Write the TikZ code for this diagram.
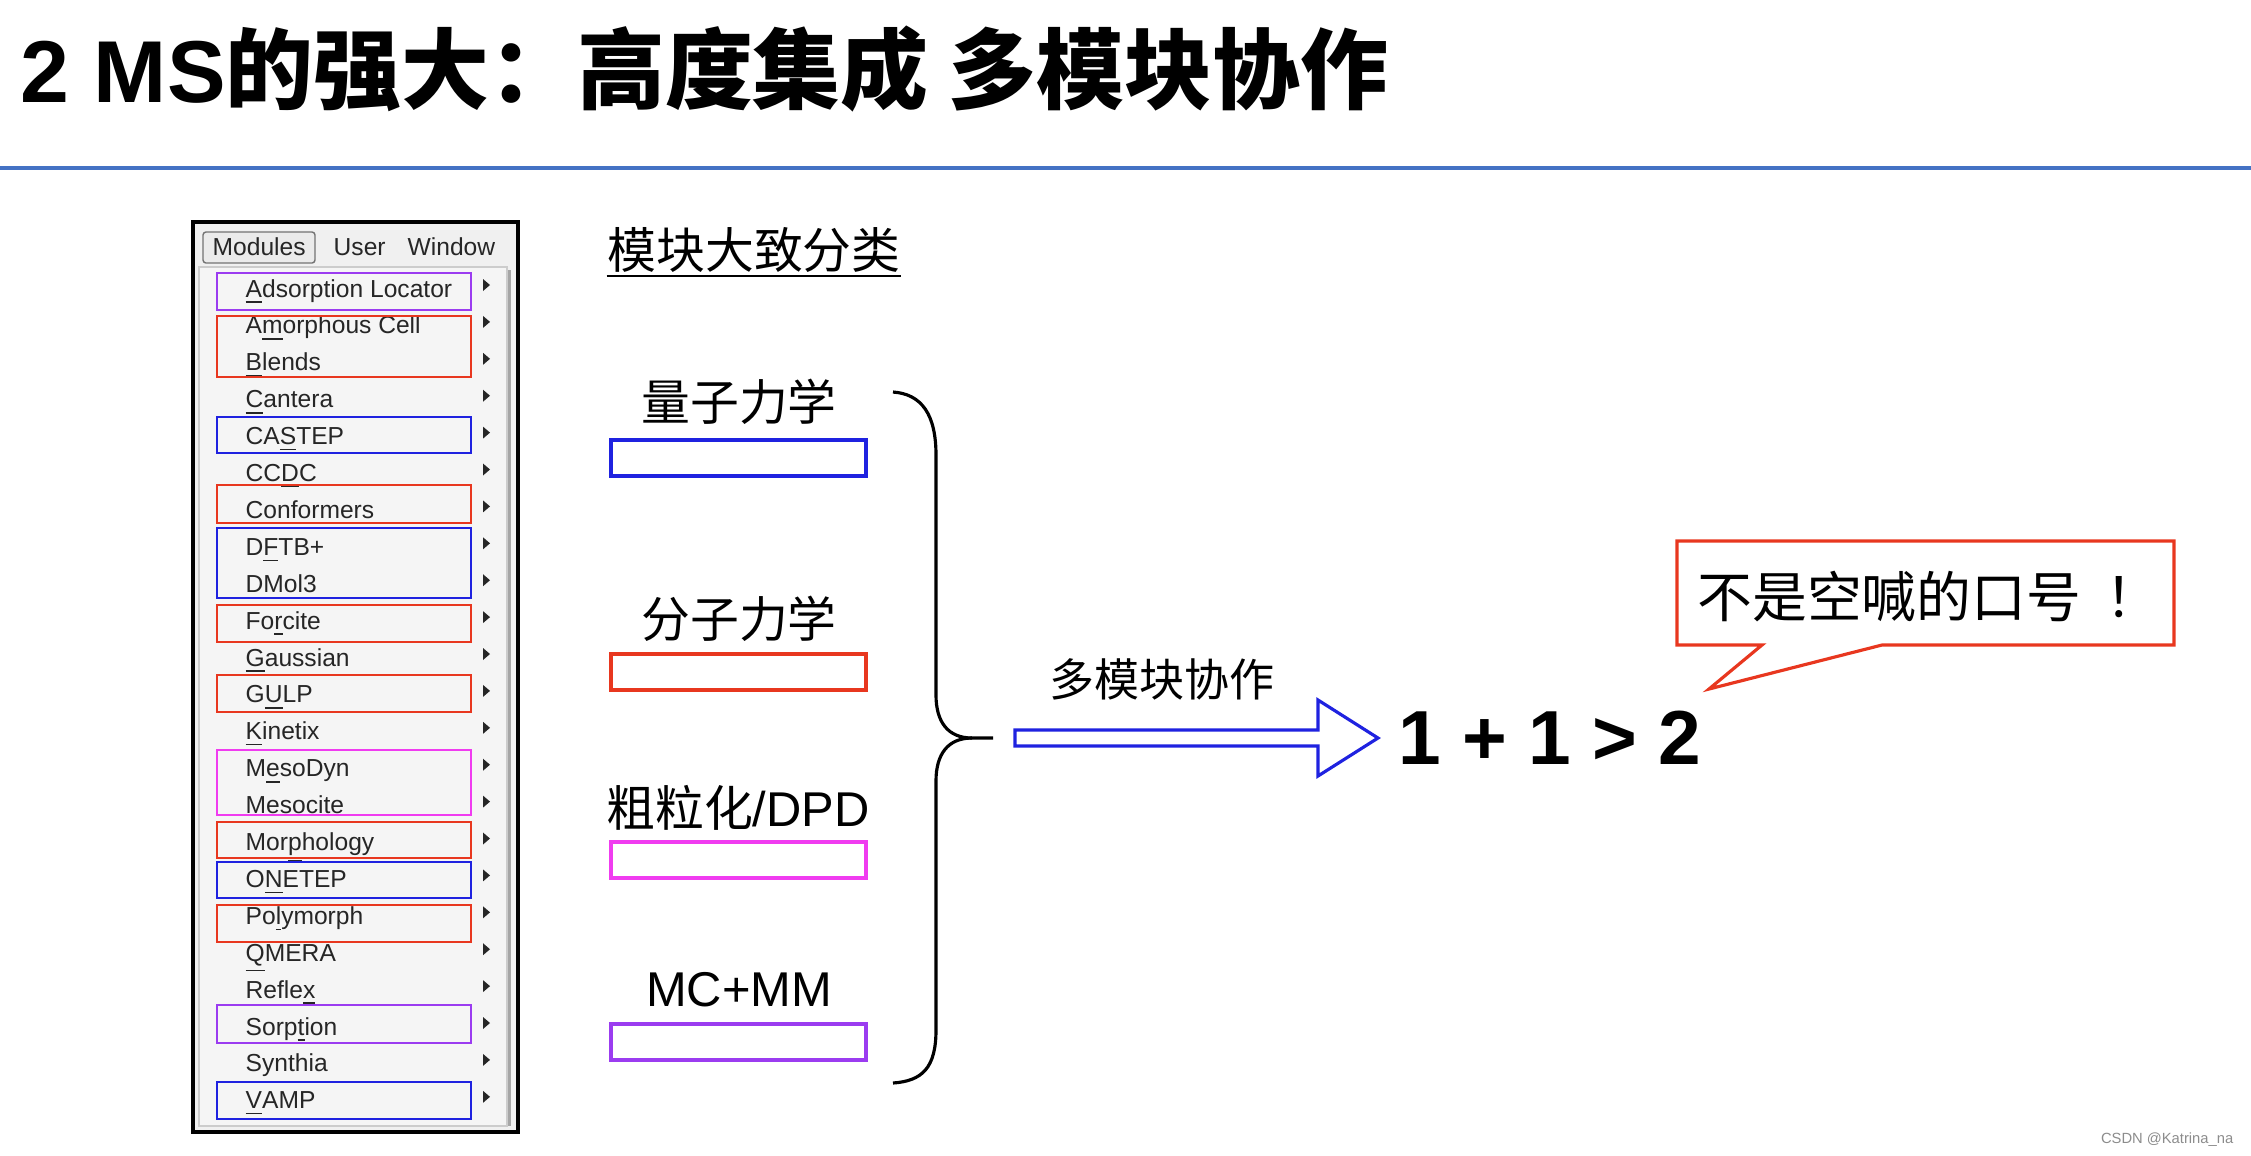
\documentclass[tikz,border=0pt]{standalone}
\usepackage{fontspec}
\usepackage{xcolor}
\setmainfont{Liberation Sans}
\newfontfamily\cjk{Noto Sans CJK SC}
\definecolor{rulebl}{HTML}{4472C4}
\definecolor{modblue}{HTML}{1F22E0}
\definecolor{modred}{HTML}{E8371F}
\definecolor{modpink}{HTML}{F03CF0}
\definecolor{modpurple}{HTML}{9B3CF0}
\definecolor{menugrey}{HTML}{F0F0F0}

\begin{document}
\begin{tikzpicture}[x=0.1mm, y=-0.1mm,
	titletext/.style	= {anchor=base west, inner sep=0pt, font=\fontsize{25}{30}\selectfont\bfseries},
	menuitem/.style		= {anchor=base west, inner sep=0pt, font=\fontsize{7}{8}\selectfont, text=black!85},
	modbox/.style		= {line width=0.65pt},
	catbox/.style		= {line width=1.1pt, minimum width=25.5mm, minimum height=3.6mm, inner sep=0pt},
	catlabel/.style		= {inner sep=0pt, font=\fontsize{13.9}{16}\selectfont},
	bigarrow/.style		= {draw=modblue, fill=white, line width=0.9pt, line join=miter},
	result/.style		= {anchor=west, inner sep=0pt, font=\fontsize{21.8}{25}\selectfont\bfseries},
	slogan/.style		= {inner sep=0pt, font=\fontsize{15.6}{18}\selectfont\cjk}]
	%\draw[help lines] (0,0) grid (2251,1155);
	\useasboundingbox (0,0) rectangle (2251,1155);
	
	% title
	\node[titletext] (title) at (20,102) {2 MS{\cjk 的强大：高度集成 多模块协作}};
	\draw[rulebl, line width=1.15pt] (0,168) -- (2251,168);
	
	% menu
	\draw[line width=1.1pt, fill=menugrey] (193,222) rectangle (518,1132);
	\draw[black!20, fill=black!4] (199,267) rectangle (507,1126);
	\fill[black!35] (508,270) rectangle (511,1126);
	\draw[rounded corners=0.3mm, black!55, fill=black!8] (203,232) rectangle (315,263);
	\node[menuitem] (mmod) at (212,255) {Modules};
	\node[menuitem] (muser) at (333,255) {User};
	\node[menuitem] (mwin) at (407,255) {Window};
	
	\foreach \name [count=\i from 0] in {\underline{A}dsorption Locator, A\underline{m}orphous Cell,
		\underline{B}lends, \underline{C}antera, CA\underline{S}TEP, CC\underline{D}C, C\underline{o}nformers,
		D\underline{F}TB+, DMol\underline{3}, Fo\underline{r}cite, \underline{G}aussian, G\underline{U}LP,
		\underline{K}inetix, M\underline{e}soDyn, Mesocite, Mor\underline{p}hology, O\underline{N}ETEP,
		Po\underline{l}ymorph, \underline{Q}MERA, Refle\underline{x}, Sorp\underline{t}ion, S\underline{y}nthia,
		\underline{V}AMP}
		\node[menuitem] (item\i) at (245,{297+36.9*\i}) {\name};
	\foreach \i in {0,...,22}
		\fill[black!85] (483,{279+36.9*\i}) -- (490,{285+36.9*\i}) -- (483,{291+36.9*\i}) -- cycle;
	
	\foreach \ya/\yb/\col in {273/310/modpurple, 316/377/modred, 417/453/modblue, 485/523/modred,
		528/598/modblue, 605/642/modred, 675/712/modred, 750/815/modpink, 822/858/modred,
		862/898/modblue, 905/942/modred, 1005/1043/modpurple, 1082/1119/modblue}
		\draw[modbox, \col] (217,\ya) rectangle (471,\yb);
	
	% categories
	\node[catlabel] (cls) at (754,250) {\cjk 模块大致分类};
	\draw[line width=0.6pt] ([yshift=-0.25mm]cls.south west) -- ([yshift=-0.25mm]cls.south east);
	
	\node[catlabel] (qmlbl) at (739,402) {\cjk 量子力学};
	\node[catbox, draw=modblue] (qm) at (738.5,458) {};
	\node[catlabel] (mmlbl) at (739,619) {\cjk 分子力学};
	\node[catbox, draw=modred] (mm) at (738.5,672) {};
	\node[catlabel] (cglbl) at (738,808) {{\cjk 粗粒化}/DPD};
	\node[catbox, draw=modpink] (cg) at (738.5,860) {};
	\node[catlabel] (mclbl) at (739,990) {MC+MM};
	\node[catbox, draw=modpurple] (mc) at (738.5,1042) {};
	
	% brace
	\coordinate (brtip) at (993,738);
	\draw[line width=0.9pt] (893,392) .. controls (922,394) and (936,415) .. (936,455) -- (936,695)
		.. controls (936,722) and (948,738) .. (972,738) -- (brtip);
	\draw[line width=0.9pt] (972,738) .. controls (948,738) and (936,754) .. (936,781) -- (936,1030)
		.. controls (936,1068) and (922,1081) .. (893,1083);
	
	% arrow and result
	\coordinate (src) at (1015,738);
	\coordinate (head) at (1378,738);
	\node[result] (sum) at (1398,738) {1 + 1 > 2};
	\draw[bigarrow] ([yshift=0.8mm]src) -- ([xshift=-6mm,yshift=0.8mm]head) -- ([xshift=-6mm,yshift=3.8mm]head)
		-- (head) -- ([xshift=-6mm,yshift=-3.8mm]head) -- ([xshift=-6mm,yshift=-0.8mm]head)
		-- ([yshift=-0.8mm]src) -- cycle;
	\node[catlabel, font=\fontsize{12.8}{15}\selectfont] (coop) at (1162,679) {\cjk 多模块协作};
	
	% callout
	\node[slogan] (say) at (1929,597) {不是空喊的口号\kern0.45em！};
	\draw[modred, line width=0.9pt, line join=miter] (1677,541) -- (2174,541) -- (2174,645) -- (1882,645)
		-- (1709,689) -- (1762,645) -- (1677,645) -- cycle;
	
	\node[anchor=east, inner sep=0pt, text=black!45, font=\fontsize{4.2}{5}\selectfont] (mark) at (2234,1140) {CSDN @Katrina\_na};
\end{tikzpicture}
\end{document}
